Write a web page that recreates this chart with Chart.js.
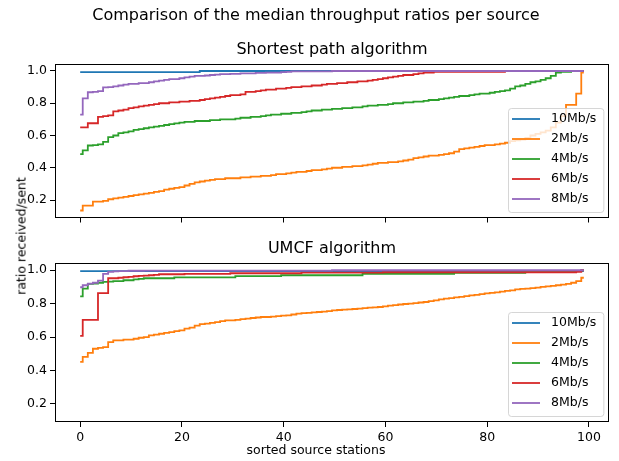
<!DOCTYPE html>
<html>
<head>
<meta charset="utf-8">
<title>Median throughput ratios per source</title>
<script src="https://cdn.jsdelivr.net/npm/chart.js@4.4.1/dist/chart.umd.min.js"></script>
<style>
  body { margin: 0; background: #fff; }
  #fig { position: relative; width: 619px; height: 461px; font-family: "DejaVu Sans", sans-serif; color: #000; }
  canvas { position: absolute; left: 0; }
  .txt { position: absolute; white-space: nowrap; transform: translate(-50%, -50%); }
  #suptitle { font-size: 16px; left: 316px; top: 14px; }
  #xlabel { font-size: 12.5px; left: 316px; top: 449px; }
  #ylabel { font-size: 12.5px; left: 21px; top: 236px; transform: translate(-50%, -50%) rotate(-90deg); }
</style>
</head>
<body>
<div id="fig">
  <canvas id="chartTop" width="619" height="228" style="top:0"></canvas>
  <canvas id="chartBottom" width="619" height="233" style="top:228px"></canvas>
  <div class="txt" id="suptitle">Comparison of the median throughput ratios per source</div>
  <div class="txt" id="ylabel">ratio received/sent</div>
  <div class="txt" id="xlabel">sorted source stations</div>
</div>
<script>
// --- data ---
const stations = Array.from({ length: 100 }, (_, i) => i);
const seriesLabels = ['10Mb/s', '2Mb/s', '4Mb/s', '6Mb/s', '8Mb/s'];
const seriesColors = ['#1f77b4', '#ff7f0e', '#2ca02c', '#d62728', '#9467bd'];
const xTicks = [0, 20, 40, 60, 80, 100];
const yTicks = [0.2, 0.4, 0.6, 0.8, 1.0];

// Shortest path algorithm
const sp10 = [
  0.993,0.993,0.993,0.993,0.993,0.993,0.993,0.993,0.993,0.993,
  0.993,0.993,0.993,0.993,0.993,0.993,0.993,0.993,0.993,0.993,
  0.993,0.993,0.993,0.993,1.0,1.0,1.0,1.0,1.0,1.0,
  1.0,1.0,1.0,1.0,1.0,1.0,1.0,1.0,1.0,1.0,
  1.0,1.0,1.0,1.0,1.0,1.0,1.0,1.0,1.0,1.0,
  1.0,1.0,1.0,1.0,1.0,1.0,1.0,1.0,1.0,1.0,
  1.0,1.0,1.0,1.0,1.0,1.0,1.0,1.0,1.0,1.0,
  1.0,1.0,1.0,1.0,1.0,1.0,1.0,1.0,1.0,1.0,
  1.0,1.0,1.0,1.0,1.0,1.0,1.0,1.0,1.0,1.0,
  1.0,1.0,1.0,1.0,1.0,1.0,1.0,1.0,1.0,1.0
];
const sp2 = [
  0.135,0.165,0.165,0.19,0.19,0.195,0.205,0.21,0.215,0.22,
  0.225,0.23,0.235,0.24,0.245,0.25,0.255,0.265,0.27,0.275,
  0.28,0.29,0.30,0.31,0.315,0.32,0.325,0.33,0.33,0.335,
  0.335,0.335,0.34,0.34,0.345,0.345,0.35,0.35,0.355,0.36,
  0.36,0.365,0.37,0.375,0.375,0.38,0.385,0.385,0.39,0.395,
  0.40,0.40,0.405,0.405,0.41,0.41,0.415,0.42,0.425,0.43,
  0.43,0.435,0.435,0.44,0.445,0.45,0.46,0.465,0.47,0.475,
  0.475,0.48,0.485,0.49,0.50,0.515,0.52,0.525,0.53,0.535,
  0.54,0.54,0.545,0.55,0.555,0.565,0.57,0.575,0.585,0.60,
  0.61,0.62,0.63,0.65,0.68,0.72,0.79,0.79,0.86,0.99
];
const sp4 = [
  0.484,0.508,0.538,0.54,0.545,0.56,0.59,0.60,0.615,0.62,
  0.625,0.635,0.64,0.645,0.65,0.655,0.66,0.665,0.67,0.675,
  0.68,0.685,0.685,0.69,0.69,0.69,0.695,0.695,0.70,0.70,
  0.70,0.705,0.71,0.71,0.715,0.715,0.72,0.725,0.73,0.73,
  0.735,0.735,0.74,0.74,0.745,0.75,0.755,0.755,0.76,0.76,
  0.765,0.765,0.77,0.77,0.775,0.775,0.78,0.785,0.785,0.79,
  0.79,0.795,0.80,0.80,0.805,0.805,0.81,0.81,0.815,0.82,
  0.82,0.825,0.83,0.835,0.84,0.845,0.845,0.85,0.855,0.86,
  0.86,0.865,0.87,0.875,0.88,0.89,0.905,0.91,0.92,0.93,
  0.935,0.945,0.955,0.97,0.99,0.995,0.995,1.0,1.0,1.0
];
const sp6 = [
  0.65,0.65,0.676,0.676,0.716,0.72,0.725,0.75,0.755,0.76,
  0.77,0.775,0.78,0.785,0.79,0.795,0.80,0.80,0.805,0.805,
  0.81,0.81,0.815,0.815,0.82,0.825,0.83,0.835,0.84,0.845,
  0.85,0.85,0.855,0.87,0.87,0.875,0.88,0.885,0.885,0.89,
  0.89,0.895,0.90,0.90,0.905,0.905,0.91,0.91,0.915,0.92,
  0.92,0.925,0.925,0.93,0.93,0.935,0.935,0.94,0.945,0.95,
  0.955,0.96,0.965,0.97,0.975,0.975,0.98,0.985,0.99,0.99,
  0.995,0.995,0.995,0.995,0.995,0.995,0.995,0.995,0.995,0.995,
  0.995,0.995,0.995,0.995,1.0,1.0,1.0,1.0,1.0,1.0,
  1.0,1.0,1.0,1.0,1.0,1.0,1.0,1.0,1.0,1.0
];
const sp8 = [
  0.73,0.83,0.868,0.87,0.875,0.898,0.90,0.905,0.91,0.915,
  0.92,0.92,0.925,0.925,0.93,0.935,0.94,0.945,0.95,0.95,
  0.955,0.96,0.965,0.97,0.97,0.972,0.975,0.977,0.98,0.98,
  0.982,0.982,0.985,0.985,0.985,0.988,0.988,0.99,0.99,0.99,
  0.993,0.995,0.997,0.997,0.997,0.997,0.998,0.998,0.998,0.998,
  1.0,1.0,1.0,1.0,1.0,1.0,1.0,1.0,1.0,1.0,
  1.0,1.0,1.0,1.0,1.0,1.0,1.0,1.0,1.0,1.0,
  1.0,1.0,1.0,1.0,1.0,1.0,1.0,1.0,1.0,1.0,
  1.0,1.0,1.0,1.0,1.0,1.0,1.0,1.0,1.0,1.0,
  1.0,1.0,1.0,1.0,1.0,1.0,1.0,1.0,1.0,1.0
];

// UMCF algorithm
const umcf10 = [
  0.995,0.995,0.995,0.995,0.995,0.995,0.995,0.995,0.995,0.995,
  0.995,0.995,0.995,0.995,0.995,0.995,0.995,0.995,0.995,0.995,
  0.995,0.995,0.995,0.995,0.995,0.995,0.995,0.995,0.995,0.995,
  0.995,0.995,0.995,0.995,0.995,0.995,0.995,0.995,0.995,0.995,
  0.995,0.995,0.995,0.995,0.995,0.995,0.995,0.995,0.995,0.995,
  0.995,0.995,0.995,0.995,0.995,0.995,0.995,0.995,0.995,0.995,
  0.995,0.995,0.995,0.995,0.995,0.995,0.995,0.995,0.995,0.995,
  0.995,0.995,0.995,0.995,0.995,0.995,0.995,0.995,0.995,0.995,
  0.995,0.995,0.995,0.995,0.995,0.995,0.995,0.995,0.995,0.995,
  0.995,0.995,0.995,0.995,0.995,0.995,0.995,0.995,0.995,0.995
];
const umcf2 = [
  0.452,0.482,0.506,0.53,0.535,0.54,0.57,0.58,0.58,0.585,
  0.585,0.59,0.596,0.60,0.61,0.615,0.62,0.625,0.63,0.635,
  0.64,0.65,0.657,0.668,0.677,0.68,0.685,0.69,0.695,0.70,
  0.70,0.703,0.707,0.71,0.714,0.717,0.72,0.72,0.722,0.725,
  0.728,0.73,0.735,0.74,0.743,0.745,0.748,0.75,0.752,0.755,
  0.76,0.762,0.764,0.766,0.768,0.77,0.773,0.776,0.778,0.78,
  0.784,0.788,0.791,0.795,0.798,0.80,0.803,0.807,0.81,0.815,
  0.82,0.825,0.83,0.833,0.837,0.84,0.845,0.85,0.853,0.857,
  0.862,0.865,0.868,0.872,0.876,0.88,0.885,0.888,0.89,0.893,
  0.896,0.90,0.903,0.906,0.91,0.914,0.918,0.925,0.935,0.955
];
const umcf4 = [
  0.843,0.89,0.918,0.92,0.925,0.93,0.932,0.935,0.935,0.94,
  0.94,0.945,0.948,0.952,0.952,0.952,0.952,0.952,0.952,0.957,
  0.957,0.957,0.957,0.957,0.957,0.957,0.957,0.957,0.957,0.957,
  0.957,0.965,0.965,0.965,0.965,0.965,0.965,0.965,0.965,0.965,
  0.97,0.97,0.97,0.97,0.97,0.97,0.97,0.97,0.97,0.97,
  0.97,0.97,0.97,0.97,0.97,0.97,0.978,0.978,0.978,0.978,
  0.978,0.978,0.978,0.978,0.978,0.978,0.978,0.978,0.978,0.978,
  0.978,0.978,0.978,0.978,0.985,0.985,0.985,0.985,0.985,0.985,
  0.985,0.985,0.985,0.985,0.985,0.985,0.985,0.985,0.99,0.99,
  0.99,0.99,0.99,0.99,0.99,0.99,0.99,0.99,0.995,1.0
];
const umcf6 = [
  0.607,0.703,0.703,0.703,0.863,0.863,0.952,0.952,0.955,0.958,
  0.96,0.964,0.966,0.968,0.97,0.972,0.976,0.976,0.976,0.976,
  0.976,0.978,0.978,0.978,0.978,0.978,0.978,0.978,0.978,0.978,
  0.982,0.982,0.982,0.982,0.982,0.982,0.982,0.982,0.982,0.982,
  0.982,0.982,0.982,0.982,0.986,0.986,0.986,0.986,0.986,0.986,
  0.986,0.986,0.986,0.986,0.986,0.986,0.986,0.986,0.986,0.986,
  0.988,0.988,0.988,0.988,0.988,0.988,0.988,0.988,0.988,0.988,
  0.988,0.988,0.988,0.988,0.988,0.988,0.988,0.988,0.988,0.988,
  0.988,0.988,0.988,0.988,0.988,0.988,0.988,0.988,0.988,0.988,
  0.988,0.988,0.988,0.988,0.988,0.988,0.988,0.988,0.99,1.0
];
const umcf8 = [
  0.898,0.91,0.92,0.925,0.938,0.978,0.99,0.993,0.995,0.995,
  0.997,0.997,0.997,0.998,0.998,0.998,0.998,0.998,0.998,0.998,
  0.998,0.998,0.998,0.998,0.998,0.998,0.998,0.998,0.998,0.998,
  0.998,0.998,0.998,0.998,0.998,0.998,0.998,0.998,0.998,0.998,
  0.998,0.998,0.998,0.998,0.998,0.998,0.998,0.998,0.998,0.998,
  1.0,1.0,1.0,1.0,1.0,1.0,1.0,1.0,1.0,1.0,
  1.0,1.0,1.0,1.0,1.0,1.0,1.0,1.0,1.0,1.0,
  1.0,1.0,1.0,1.0,1.0,1.0,1.0,1.0,1.0,1.0,
  1.0,1.0,1.0,1.0,1.0,1.0,1.0,1.0,1.0,1.0,
  1.0,1.0,1.0,1.0,1.0,1.0,1.0,1.0,1.0,1.0
];

const shortestSeries = [sp10, sp2, sp4, sp6, sp8];
const umcfSeries = [umcf10, umcf2, umcf4, umcf6, umcf8];

// shared y limits with matplotlib's 5% margin
const allValues = shortestSeries.concat(umcfSeries).flat();
const yLo = Math.min(...allValues);
const yHi = Math.max(...allValues);
const yPad = (yHi - yLo) * 0.05;
const xPad = (stations[stations.length - 1] - stations[0]) * 0.05;

const FONT = '"DejaVu Sans", sans-serif';

// frame, subplot title and inner legend (lower right)
const framePlugin = {
  id: 'frameBox',
  afterDatasetsDraw(chart, args, opts) {
    const { ctx, chartArea: a } = chart;
    ctx.save();
    ctx.strokeStyle = '#000';
    ctx.lineWidth = 1;
    ctx.strokeRect(Math.round(a.left) + 0.5, Math.round(a.top) + 0.5,
      Math.round(a.right - a.left) - 1, Math.round(a.bottom - a.top) - 1);

    ctx.fillStyle = '#000';
    ctx.font = '16px ' + FONT;
    ctx.textAlign = 'center';
    ctx.textBaseline = 'middle';
    ctx.fillText(opts.title, (a.left + a.right) / 2, a.top - 14);

    ctx.font = '12.5px ' + FONT;
    const items = chart.data.datasets;
    const textW = Math.max(...items.map(d => ctx.measureText(d.label).width));
    const w = 43 + textW + 7, h = 104;
    const x0 = Math.round(a.right - 6 - w), y0 = Math.round(a.bottom - 6 - h);
    ctx.beginPath();
    if (ctx.roundRect) ctx.roundRect(x0 + 0.5, y0 + 0.5, w, h, 3);
    else ctx.rect(x0 + 0.5, y0 + 0.5, w, h);
    ctx.fillStyle = 'rgba(255,255,255,0.8)';
    ctx.fill();
    ctx.strokeStyle = 'rgba(204,204,204,0.8)';
    ctx.stroke();
    items.forEach((d, i) => {
      const y = y0 + 11 + 20 * i;
      ctx.strokeStyle = d.borderColor;
      ctx.lineWidth = 1.8;
      ctx.beginPath();
      ctx.moveTo(x0 + 4, y);
      ctx.lineTo(x0 + 32, y);
      ctx.stroke();
      ctx.fillStyle = '#000';
      ctx.textAlign = 'left';
      ctx.fillText(d.label, x0 + 43, y);
    });
    ctx.restore();
  }
};

const makeDatasets = (series) => series.map((values, i) => ({
  label: seriesLabels[i],
  data: stations.map((x, j) => ({ x, y: values[j] })),
  borderColor: seriesColors[i],
  backgroundColor: seriesColors[i],
  borderWidth: 1.8,
  pointRadius: 0,
  fill: false,
  stepped: 'middle',
  order: series.length - i
}));

const makeOptions = (title, bottom) => ({
  responsive: false,
  animation: false,
  layout: { padding: { top: bottom ? 35 : 64, right: 10, left: 0, bottom: 0 } },
  plugins: {
    legend: { display: false },
    tooltip: { enabled: false },
    frameBox: { title }
  },
  scales: {
    x: {
      type: 'linear',
      min: stations[0] - xPad,
      max: stations[stations.length - 1] + xPad,
      afterBuildTicks: s => { s.ticks = xTicks.map(v => ({ value: v })); },
      afterFit: s => { s.height = bottom ? 39 : 5; },
      border: { display: false },
      grid: { drawOnChartArea: false, drawTicks: true, tickLength: 5, tickColor: '#000', color: '#000' },
      ticks: {
        color: bottom ? '#000' : 'rgba(0,0,0,0)',
        font: { family: FONT, size: 12.5 },
        padding: 3, maxRotation: 0, autoSkip: false
      }
    },
    y: {
      min: yLo - yPad,
      max: yHi + yPad,
      afterBuildTicks: s => { s.ticks = yTicks.map(v => ({ value: v })); },
      afterFit: s => { s.width = 55; },
      border: { display: false },
      grid: { drawOnChartArea: false, drawTicks: true, tickLength: 5, tickColor: '#000', color: '#000' },
      ticks: {
        color: '#000',
        font: { family: FONT, size: 12.5 },
        padding: 3,
        callback: v => Number(v).toFixed(1)
      }
    }
  }
});

new Chart(document.getElementById('chartTop'), {
  type: 'line',
  data: { datasets: makeDatasets(shortestSeries) },
  options: makeOptions('Shortest path algorithm', false),
  plugins: [framePlugin]
});

new Chart(document.getElementById('chartBottom'), {
  type: 'line',
  data: { datasets: makeDatasets(umcfSeries) },
  options: makeOptions('UMCF algorithm', true),
  plugins: [framePlugin]
});
</script>
</body>
</html>
